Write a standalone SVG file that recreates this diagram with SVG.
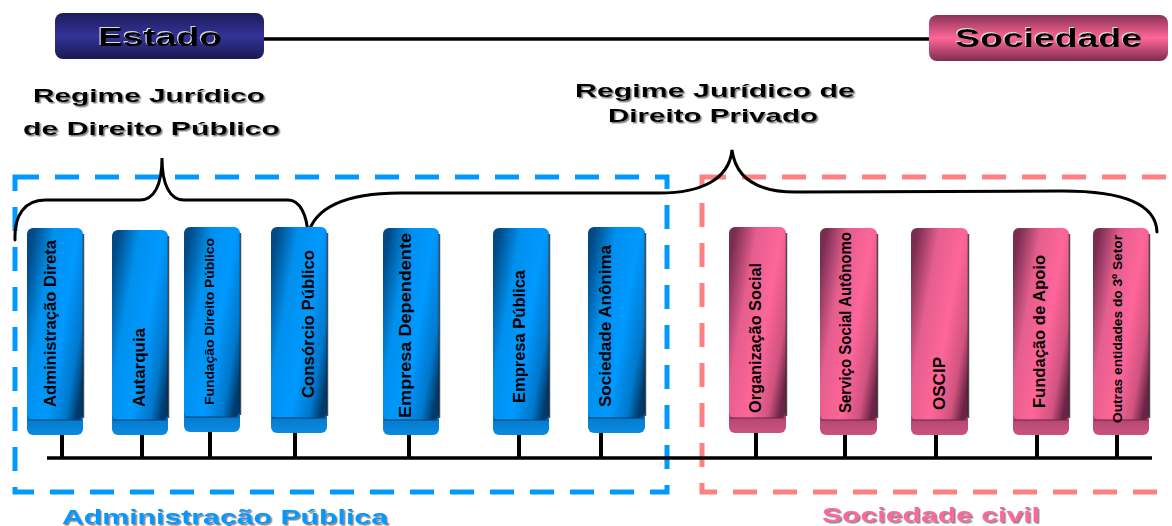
<svg xmlns="http://www.w3.org/2000/svg" width="1172" height="526" viewBox="0 0 1172 526">
<defs>
<linearGradient id="gEstado" x1="0" y1="0" x2="0" y2="1">
<stop offset="0" stop-color="#1c1c5a"/><stop offset="0.5" stop-color="#33339a"/><stop offset="1" stop-color="#1a1a50"/>
</linearGradient>
<linearGradient id="gSoc" x1="0" y1="0" x2="0" y2="1">
<stop offset="0" stop-color="#8a3358"/><stop offset="0.5" stop-color="#ff6699"/><stop offset="1" stop-color="#7d2d50"/>
</linearGradient>
<linearGradient id="gBlue" x1="0" y1="0.2" x2="1" y2="0.8">
<stop offset="0" stop-color="#004a86"/><stop offset="0.28" stop-color="#0090ee"/><stop offset="0.6" stop-color="#0099ff"/><stop offset="0.85" stop-color="#0078cc"/><stop offset="1" stop-color="#003a6a"/>
</linearGradient>
<linearGradient id="gPink" x1="0" y1="0.2" x2="1" y2="0.8">
<stop offset="0" stop-color="#7a2d50"/><stop offset="0.28" stop-color="#e45e8e"/><stop offset="0.6" stop-color="#ff6699"/><stop offset="0.85" stop-color="#d0537f"/><stop offset="1" stop-color="#6a2545"/>
</linearGradient>
<linearGradient id="gBlueBase" x1="0" y1="0" x2="0" y2="1">
<stop offset="0" stop-color="#0070c0"/><stop offset="1" stop-color="#0a8ae0"/>
</linearGradient>
<linearGradient id="gPinkBase" x1="0" y1="0" x2="0" y2="1">
<stop offset="0" stop-color="#a84068"/><stop offset="1" stop-color="#c9527f"/>
</linearGradient>
<filter id="sh" x="-10%" y="-20%" width="120%" height="150%">
<feDropShadow dx="1.5" dy="1.5" stdDeviation="0.4" flood-color="#777" flood-opacity="0.9"/>
</filter>
<filter id="shL" x="-10%" y="-20%" width="120%" height="150%">
<feDropShadow dx="-1" dy="-1" stdDeviation="0.3" flood-color="#ddd" flood-opacity="1"/>
</filter>
</defs>
<style>
.hdr{font-family:"Liberation Sans",Arial,sans-serif;font-weight:bold;fill:#000;}
.big{font-size:26px;}
.reg{font-size:19px;}
.lbl{font-family:"Liberation Sans",Arial,sans-serif;font-size:16px;font-weight:bold;fill:#000;}
.sm{font-size:12px;}
.brace{fill:none;stroke:#000;stroke-width:3;stroke-linecap:round;}
.line{stroke:#000;stroke-width:3.5;fill:none;}
.stem{stroke:#000;stroke-width:4;}
.sep{stroke-width:1.2;fill:none;}
.bsep{stroke:#003f70;}
.psep{stroke:#6a2545;}
.edge{stroke:#000;stroke-opacity:0.7;stroke-width:1.5;}
</style>

<!-- dashed areas -->
<rect id="area-admin" x="15" y="177" width="652" height="315" fill="none" stroke="#0099ff" stroke-width="5" stroke-dasharray="24 16"/>
<rect id="area-soc" x="702" y="177" width="490" height="315" fill="none" stroke="#ff8080" stroke-width="5" stroke-dasharray="24 16"/>

<g id="connectors">
<line class="line" x1="264" y1="39" x2="930" y2="39" stroke-width="3"/>
<path class="brace" d="M15,240 C14,215 25,200 45,200 L140,200 C154,200 162,185 162,158 C162,185 170,200 184,200 L288,200 C300,200 307,215 308,235"/>
<path class="brace" d="M308,235 C314,208 345,193 400,193 L660,193 C700,193 729,180 732,150 C736,180 760,193 800,192 L1063,191 C1125,191 1156,205 1157,232"/>
<line class="line" x1="47" y1="458" x2="1152" y2="458"/>
<line class="stem" x1="62" y1="433" x2="62" y2="458"/>
<line class="stem" x1="142" y1="433" x2="142" y2="458"/>
<line class="stem" x1="210" y1="430" x2="210" y2="458"/>
<line class="stem" x1="295" y1="431" x2="295" y2="458"/>
<line class="stem" x1="409" y1="433" x2="409" y2="458"/>
<line class="stem" x1="519" y1="433" x2="519" y2="458"/>
<line class="stem" x1="601" y1="431" x2="601" y2="458"/>
<line class="stem" x1="756" y1="431" x2="756" y2="458"/>
<line class="stem" x1="845" y1="433" x2="845" y2="458"/>
<line class="stem" x1="936" y1="433" x2="936" y2="458"/>
<line class="stem" x1="1037" y1="433" x2="1037" y2="458"/>
<line class="stem" x1="1117" y1="433" x2="1117" y2="458"/>
</g>

<g id="estado">
<rect x="55" y="13" width="209" height="46" rx="8" fill="url(#gEstado)"/>
<text class="hdr big" x="98" y="46" textLength="124" lengthAdjust="spacingAndGlyphs" filter="url(#shL)">Estado</text>
</g>
<g id="sociedade">
<rect x="929" y="15" width="239" height="46" rx="8" fill="url(#gSoc)"/>
<text class="hdr big" x="955" y="47" textLength="187" lengthAdjust="spacingAndGlyphs" filter="url(#shL)">Sociedade</text>
</g>

<g id="regime-publico" filter="url(#sh)">
<text class="hdr reg" x="33" y="102" textLength="232" lengthAdjust="spacingAndGlyphs">Regime Jurídico</text>
<text class="hdr reg" x="23" y="135" textLength="257" lengthAdjust="spacingAndGlyphs">de Direito Público</text>
</g>
<g id="regime-privado" filter="url(#sh)">
<text class="hdr reg" x="575" y="97" textLength="280" lengthAdjust="spacingAndGlyphs">Regime Jurídico de</text>
<text class="hdr reg" x="608" y="122" textLength="210" lengthAdjust="spacingAndGlyphs">Direito Privado</text>
</g>

<!-- blue entities -->
<g id="n-adm-direta">
<rect x="27" y="408" width="56" height="27" rx="6" fill="url(#gBlueBase)"/>
<rect x="27" y="228" width="56" height="192" rx="6" fill="url(#gBlue)"/>
<line class="sep bsep" x1="28" y1="420" x2="82" y2="420"/><line class="edge" x1="83.5" y1="234" x2="83.5" y2="418"/>
<text class="lbl" transform="translate(56,407) rotate(-90)" textLength="167" lengthAdjust="spacingAndGlyphs">Administração Direta</text>
</g>
<g id="n-autarquia">
<rect x="112" y="408" width="56" height="27" rx="6" fill="url(#gBlueBase)"/>
<rect x="112" y="230" width="56" height="190" rx="6" fill="url(#gBlue)"/>
<line class="sep bsep" x1="113" y1="420" x2="167" y2="420"/><line class="edge" x1="168.5" y1="236" x2="168.5" y2="418"/>
<text class="lbl" transform="translate(145,407) rotate(-90)" textLength="79" lengthAdjust="spacingAndGlyphs">Autarquia</text>
</g>
<g id="n-fundacao-dp">
<rect x="184" y="405" width="56" height="27" rx="6" fill="url(#gBlueBase)"/>
<rect x="184" y="227" width="56" height="190" rx="6" fill="url(#gBlue)"/>
<line class="sep bsep" x1="185" y1="417" x2="239" y2="417"/><line class="edge" x1="240.5" y1="233" x2="240.5" y2="415"/>
<text class="lbl sm" transform="translate(214,405) rotate(-90)" textLength="167" lengthAdjust="spacingAndGlyphs">Fundação Direito Público</text>
</g>
<g id="n-consorcio">
<rect x="271" y="406" width="56" height="27" rx="6" fill="url(#gBlueBase)"/>
<rect x="271" y="227" width="56" height="191" rx="6" fill="url(#gBlue)"/>
<line class="sep bsep" x1="272" y1="418" x2="326" y2="418"/><line class="edge" x1="327.5" y1="233" x2="327.5" y2="416"/>
<text class="lbl" transform="translate(314,398) rotate(-90)" textLength="148" lengthAdjust="spacingAndGlyphs">Consórcio Público</text>
</g>
<g id="n-empresa-dep">
<rect x="383" y="408" width="56" height="27" rx="6" fill="url(#gBlueBase)"/>
<rect x="383" y="228" width="56" height="192" rx="6" fill="url(#gBlue)"/>
<line class="sep bsep" x1="384" y1="420" x2="438" y2="420"/><line class="edge" x1="439.5" y1="234" x2="439.5" y2="418"/>
<text class="lbl" transform="translate(411,418) rotate(-90)" textLength="185" lengthAdjust="spacingAndGlyphs">Empresa Dependente</text>
</g>
<g id="n-empresa-pub">
<rect x="493" y="408" width="56" height="27" rx="6" fill="url(#gBlueBase)"/>
<rect x="493" y="228" width="56" height="192" rx="6" fill="url(#gBlue)"/>
<line class="sep bsep" x1="494" y1="420" x2="548" y2="420"/><line class="edge" x1="549.5" y1="234" x2="549.5" y2="418"/>
<text class="lbl" transform="translate(525,403) rotate(-90)" textLength="133" lengthAdjust="spacingAndGlyphs">Empresa Pública</text>
</g>
<g id="n-soc-anonima">
<rect x="588" y="406" width="57" height="27" rx="6" fill="url(#gBlueBase)"/>
<rect x="588" y="227" width="57" height="191" rx="6" fill="url(#gBlue)"/>
<line class="sep bsep" x1="589" y1="418" x2="644" y2="418"/><line class="edge" x1="645.5" y1="233" x2="645.5" y2="416"/>
<text class="lbl" transform="translate(611,407) rotate(-90)" textLength="162" lengthAdjust="spacingAndGlyphs">Sociedade Anônima</text>
</g>

<!-- pink entities -->
<g id="n-org-social">
<rect x="729" y="406" width="57" height="27" rx="6" fill="url(#gPinkBase)"/>
<rect x="729" y="227" width="57" height="191" rx="6" fill="url(#gPink)"/>
<line class="sep psep" x1="730" y1="418" x2="785" y2="418"/><line class="edge" x1="786.5" y1="233" x2="786.5" y2="416"/>
<text class="lbl" transform="translate(761,413) rotate(-90)" textLength="150" lengthAdjust="spacingAndGlyphs">Organização Social</text>
</g>
<g id="n-servico-social">
<rect x="820" y="408" width="57" height="27" rx="6" fill="url(#gPinkBase)"/>
<rect x="820" y="228" width="57" height="192" rx="6" fill="url(#gPink)"/>
<line class="sep psep" x1="821" y1="420" x2="876" y2="420"/><line class="edge" x1="877.5" y1="234" x2="877.5" y2="418"/>
<text class="lbl" transform="translate(851,413) rotate(-90)" textLength="181" lengthAdjust="spacingAndGlyphs">Serviço Social Autônomo</text>
</g>
<g id="n-oscip">
<rect x="911" y="408" width="57" height="27" rx="6" fill="url(#gPinkBase)"/>
<rect x="911" y="228" width="57" height="192" rx="6" fill="url(#gPink)"/>
<line class="sep psep" x1="912" y1="420" x2="967" y2="420"/><line class="edge" x1="968.5" y1="234" x2="968.5" y2="418"/>
<text class="lbl" transform="translate(945,410) rotate(-90)" textLength="53" lengthAdjust="spacingAndGlyphs">OSCIP</text>
</g>
<g id="n-fundacao-apoio">
<rect x="1013" y="408" width="56" height="27" rx="6" fill="url(#gPinkBase)"/>
<rect x="1013" y="228" width="56" height="192" rx="6" fill="url(#gPink)"/>
<line class="sep psep" x1="1014" y1="420" x2="1068" y2="420"/><line class="edge" x1="1069.5" y1="234" x2="1069.5" y2="418"/>
<text class="lbl" transform="translate(1045,408) rotate(-90)" textLength="153" lengthAdjust="spacingAndGlyphs">Fundação de Apoio</text>
</g>
<g id="n-outras">
<rect x="1093" y="408" width="56" height="27" rx="6" fill="url(#gPinkBase)"/>
<rect x="1093" y="228" width="56" height="192" rx="6" fill="url(#gPink)"/>
<line class="sep psep" x1="1094" y1="420" x2="1148" y2="420"/><line class="edge" x1="1149.5" y1="234" x2="1149.5" y2="418"/>
<text class="lbl sm" transform="translate(1122,423) rotate(-90)" textLength="188" lengthAdjust="spacingAndGlyphs" font-size="13">Outras entidades do 3º Setor</text>
</g>

<text id="lbl-admin" x="62" y="524" font-family="Liberation Sans, Arial, sans-serif" font-weight="bold" font-size="21" fill="#0099ff" textLength="326" lengthAdjust="spacingAndGlyphs" filter="url(#sh)">Administração Pública</text>
<text id="lbl-soc" x="822" y="522" font-family="Liberation Sans, Arial, sans-serif" font-weight="bold" font-size="21" fill="#ff6699" textLength="218" lengthAdjust="spacingAndGlyphs" filter="url(#sh)">Sociedade civil</text>
</svg>
